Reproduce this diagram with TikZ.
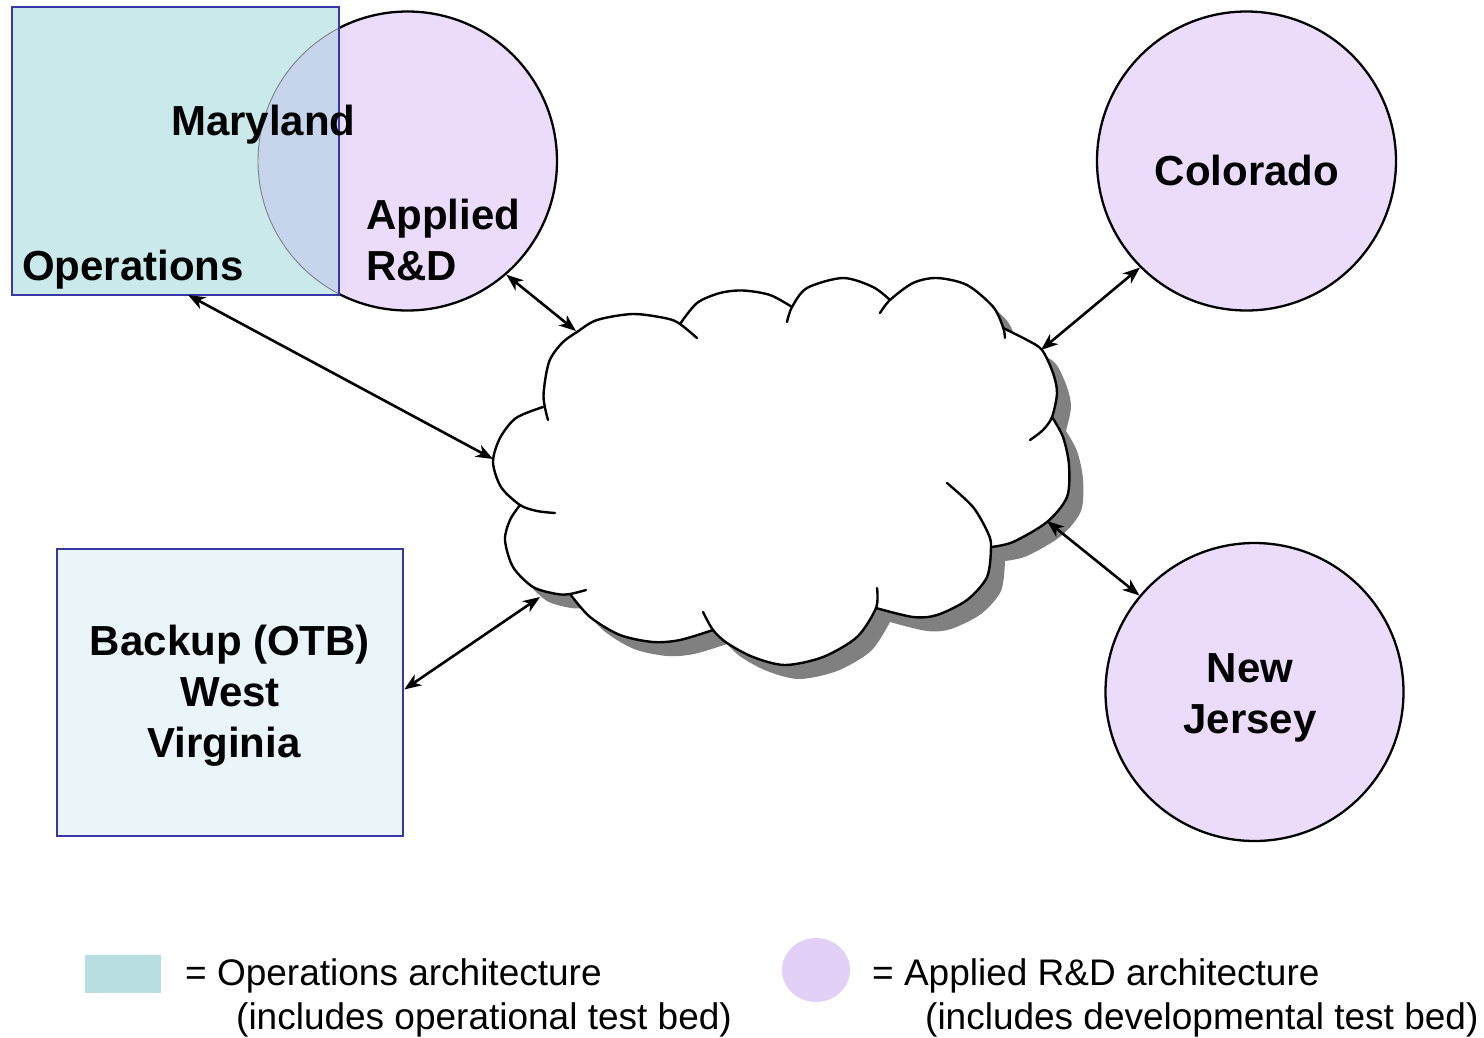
\documentclass[tikz,border=0pt]{standalone}
\usepackage{fontspec}
\setmainfont{Liberation Sans}
\usetikzlibrary{arrows.meta}

\definecolor{opsfill}{RGB}{202,233,234}
\definecolor{bakfill}{RGB}{234,245,249}
\definecolor{lav}{RGB}{236,220,251}
\definecolor{overlapfill}{RGB}{198,212,236}
\definecolor{boxborder}{RGB}{55,55,165}
\definecolor{legsquare}{RGB}{184,222,225}
\definecolor{legcircle}{RGB}{227,208,247}
\definecolor{shadowgray}{RGB}{128,128,128}

\begin{document}
\begin{tikzpicture}[x=1pt,y=-1pt,
  boldlbl/.style={font=\fontsize{42}{48}\selectfont\bfseries, inner sep=0pt},
  legtxt/.style={font=\fontsize{37}{44}\selectfont, inner sep=0pt, anchor=base west},
  site/.style={circle, draw=black, line width=2.3pt, fill=lav, minimum size=299pt, inner sep=0pt},
  opsbox/.style={rectangle, fill=opsfill, minimum width=327pt, minimum height=288pt, inner sep=0pt, outer sep=0pt},
  bakbox/.style={rectangle, draw=boxborder, line width=2.5pt, fill=bakfill, minimum width=346pt, minimum height=287pt, inner sep=0pt},
  link/.style={line width=2.6pt, {Stealth[length=17pt,width=13pt,inset=5pt]}-{Stealth[length=17pt,width=13pt,inset=5pt]}},
  cloudline/.style={line width=2.4pt, line join=round, line cap=round},
  cloudoutline/.style={insert path={
    plot[smooth] coordinates {(520,505) (501,487) (493,462) (500,438) (516,418) (543,407)}
    -- plot[smooth] coordinates {(543,407) (543.5,392) (549,362) (562,343) (577,332) (597,320) (633,314) (667,318.5) (680,324)}
    -- plot[smooth] coordinates {(680,324) (697,303) (720,293) (743,290.5) (770,295) (792,307)}
    -- plot[smooth] coordinates {(792,307) (807,288) (843,278) (873,287) (890,300)}
    -- plot[smooth] coordinates {(890,300) (913,283) (937,278) (967,285) (993,306.7) (1003,328)}
    -- plot[smooth] coordinates {(1003,328) (1027,340) (1042,350) (1053,373) (1057,393) (1052,417)}
    -- plot[smooth] coordinates {(1052,417) (1063,437) (1069,465) (1067,497) (1047,522) (1013,542) (991,547)}
    -- plot[smooth] coordinates {(991,547) (987,577) (967,600) (937,615) (913,617) (876,608)}
    -- plot[smooth] coordinates {(876,608) (857,637) (823,657) (785,665) (753,657) (727,643) (713,630)}
    -- plot[smooth] coordinates {(713,630) (680,640) (653,642) (620,635) (590,617) (570,594)}
    -- plot[smooth] coordinates {(570,594) (557,594) (533,587) (513,567) (505,540) (510,520) (520,505)}
    -- cycle}}
]
\useasboundingbox (0,0) rectangle (1484,1037);

% ---- Maryland: operations box overlapping the applied R&D circle
\node[site] (ard) at (407.5,161) {};
\node[opsbox] (ops) at (175.5,151) {};
\begin{scope}
  \clip (ops.north west) rectangle (ops.south east);
  \fill[overlapfill] (ard.center) circle[radius=149.5pt];
  \draw[gray, line width=0.9pt] (ard.center) circle[radius=149.5pt];
\end{scope}
\draw[boxborder, line width=2.5pt] (ops.north west) rectangle (ops.south east);

% ---- other sites
\node[site] (col) at (1246.5,161) {};
\node[site, minimum size=298pt] (nj) at (1254.5,692) {};
\node[bakbox] (bak) at (230,692.5) {};

% ---- network cloud with drop shadow
\begin{scope}[shift={(14,14)}]
  \fill[shadowgray, cloudoutline];
\end{scope}
\fill[white, cloudoutline];
\draw[cloudline] plot[smooth] coordinates {(555,513) (537,511) (520,505) (501,487) (493,462) (500,438) (516,418) (543,407)};
\draw[cloudline] plot[smooth] coordinates {(548,420) (543.5,396) (549,362) (562,343) (577,332) (597,320) (633,314) (667,318.5) (680,324) (697,338)};
\draw[cloudline] plot[smooth] coordinates {(680,324) (697,303) (720,293) (743,290.5) (770,295) (792,307)};
\draw[cloudline] plot[smooth] coordinates {(787,322) (792,307) (807,288) (843,278) (873,287) (890,300)};
\draw[cloudline] plot[smooth] coordinates {(880,313) (890,300) (913,283) (937,278) (967,285) (993,306.7) (1003,327) (1005,338)};
\draw[cloudline] plot[smooth] coordinates {(1003,328) (1027,340) (1042,350) (1053,373) (1057,393) (1052,417) (1043,430) (1030,440)};
\draw[cloudline] plot[smooth] coordinates {(1052,417) (1063,437) (1069,465) (1067,497) (1047,522) (1013,542) (991,547)};
\draw[cloudline] plot[smooth] coordinates {(947,483) (973,507) (988,533) (991,547) (987,577) (967,600) (937,615) (913,617) (876,608)};
\draw[cloudline] plot[smooth] coordinates {(877,588) (876,608) (857,637) (823,657) (785,665) (753,657) (727,643) (713,630) (703,612)};
\draw[cloudline] plot[smooth] coordinates {(713,630) (680,640) (653,642) (620,635) (590,617) (570,594)};
\draw[cloudline] plot[smooth] coordinates {(586,590) (570,594) (557,594) (533,587) (513,567) (505,540) (510,520) (520,505)};

% attachment points on the cloud rim
\coordinate (cOps) at (493,459);
\coordinate (cArd) at (576,331);
\coordinate (cCol) at (1041,350);
\coordinate (cNj)  at (1047,521);
\coordinate (cBak) at (540,597);

% ---- links
\draw[link] (ops.-85.8) -- (cOps);
\draw[link] (ard.-49) -- (cArd);
\draw[link] (col.225.9) -- (cCol);
\draw[link] (nj.140.6) -- (cNj);
\draw[link] (bak.1) -- (cBak);

% ---- site labels
\node[boldlbl, anchor=base west] (tMd) at (171,135) {Maryland};
\node[boldlbl, anchor=base west] (tOps) at (22,280) {Operations};
\node[boldlbl, anchor=base west] (tApp) at (366,229) {Applied};
\node[boldlbl, anchor=base west] (tRD) at (366,280) {R\&D};
\node[boldlbl, anchor=base] (tCol) at (1247,185) {Colorado};
\node[boldlbl, anchor=base] (tNew) at (1250,682) {New};
\node[boldlbl, anchor=base] (tJer) at (1250,733) {Jersey};
\node[boldlbl, anchor=base] (tBak) at (230,655) {Backup (OTB)};
\node[boldlbl, anchor=base] (tWest) at (230,706) {West};
\node[boldlbl, anchor=base] (tVa) at (224,757) {Virginia};

% ---- legend
\fill[legsquare] (85,955) rectangle (161,993);
\node[legtxt] (l1a) at (185,985) {= Operations architecture};
\node[legtxt] (l1b) at (236,1029) {(includes operational test bed)};
\fill[legcircle] (816,970) ellipse[x radius=34pt, y radius=32pt];
\node[legtxt] (l2a) at (872,985) {= Applied R\&D architecture};
\node[legtxt] (l2b) at (925,1029) {(includes developmental test bed)};
\end{tikzpicture}
\end{document}
